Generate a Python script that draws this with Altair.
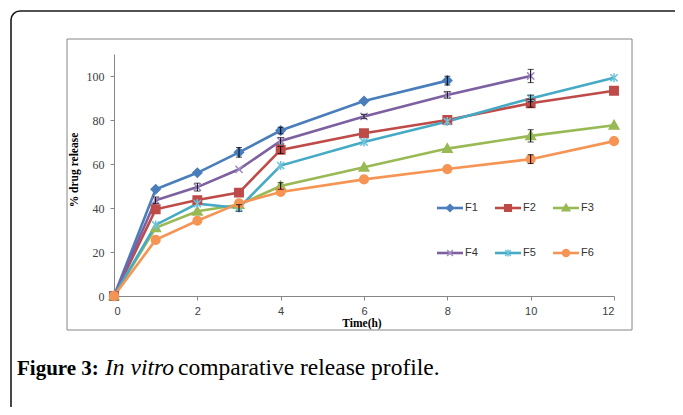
import altair as alt
import pandas as pd

# ---------------- data ----------------
series = ["F1", "F2", "F3", "F4", "F5", "F6"]
times = [0, 1, 2, 3, 4, 6, 8, 10, 12]

f1 = [0, 48.5, 56.0, 65.3, 75.2, 88.6, 97.9]
f2 = [0, 39.4, 43.6, 47.0, 66.4, 74.0, 80.0, 87.6, 93.3]
f3 = [0, 31.0, 38.5, 41.5, 50.0, 58.5, 67.0, 72.8, 77.6]
f4 = [0, 43.5, 49.5, 57.6, 70.5, 81.6, 91.4, 100.0]
f5 = [0, 32.3, 42.0, 40.0, 59.3, 70.0, 79.3, 89.8, 99.2]
f6 = [0, 25.5, 34.2, 42.1, 47.3, 53.0, 57.7, 62.2, 70.4]

# error bars (only those visible beyond the markers)
e1 = [0, 0, 0, 2.2, 1.5, 0, 2.0]
e2 = [0, 0, 0, 0, 1.6, 0, 0, 1.8, 0]
e3 = [0, 0, 0, 0, 1.5, 0, 0, 2.8, 0]
e4 = [0, 1.5, 1.8, 0, 1.5, 1.0, 1.5, 3.0]
e5 = [0, 0, 0, 1.5, 0, 0, 0, 1.5, 0]
e6 = [0, 0, 0, 0, 0, 0, 0, 2.0, 0]

x_ticks = [0, 2, 4, 6, 8, 10, 12]
y_ticks = [0, 20, 40, 60, 80, 100]

line_colors = ["#4a7ebb", "#be4b48", "#98b954", "#7d60a0", "#46aac5", "#f69454"]
marker_colors = ["#4a7ebb", "#be4b48", "#98b954", "#a08cc3", "#6cc3dc", "#f69454"]

marker_paths = [
    "M0,-0.75L0.75,0L0,0.75L-0.75,0Z",
    "M-0.7,-0.7H0.7V0.7H-0.7Z",
    "M0,-0.8L0.8,0.6L-0.8,0.6Z",
    "M-0.6,-0.6L0.6,0.6M-0.6,0.6L0.6,-0.6",
    "M-0.6,-0.6L0.6,0.6M-0.6,0.6L0.6,-0.6M0,-0.75V0.75",
    "M-0.72,0A0.72,0.72 0 1,0 0.72,0A0.72,0.72 0 1,0 -0.72,0Z",
]

vals = [f1, f2, f3, f4, f5, f6]
errs = [e1, e2, e3, e4, e5, e6]
rows = []
for s, v, e in zip(series, vals, errs):
    for t, y, d in zip(times, v, e):
        rows.append({"series": s, "time": t, "rel": y, "lo": y - d, "hi": y + d, "err": d})
df = pd.DataFrame(rows)
df_err = df[df["err"] > 0]

# ---------------- chart ----------------
W, H = 500, 242
xs = alt.Scale(domain=[0, 12], nice=False)
ys = alt.Scale(domain=[0, 110], nice=False)

x_axis = alt.Axis(values=x_ticks, grid=False, domainColor="#868686", tickColor="#868686",
                  tickSize=4, labelFont="Liberation Sans", labelFontSize=11, labelColor="#404040",
                  labelPadding=5, title=None)
y_axis = alt.Axis(values=y_ticks, grid=False, domainColor="#868686", tickColor="#868686",
                  tickSize=4, labelFont="Liberation Serif", labelFontSize=12, labelColor="#404040",
                  labelPadding=6, title=None)

base = alt.Chart(df)

lines = base.mark_line(strokeWidth=2.6).encode(
    x=alt.X("time:Q", scale=xs, axis=x_axis),
    y=alt.Y("rel:Q", scale=ys, axis=y_axis),
    color=alt.Color("series:N", scale=alt.Scale(domain=series, range=line_colors), legend=None),
    detail="series:N",
)

points = base.mark_point(filled=True, size=144, strokeWidth=1.5, opacity=1).encode(
    x=alt.X("time:Q", scale=xs),
    y=alt.Y("rel:Q", scale=ys),
    fill=alt.Fill("series:N", scale=alt.Scale(domain=series, range=marker_colors), legend=None),
    stroke=alt.Stroke("series:N", scale=alt.Scale(domain=series, range=marker_colors), legend=None),
    shape=alt.Shape("series:N", scale=alt.Scale(domain=series, range=marker_paths), legend=None),
)

err_rules = alt.Chart(df_err).mark_rule(color="#000000", strokeWidth=1).encode(
    x=alt.X("time:Q", scale=xs), y=alt.Y("lo:Q", scale=ys), y2="hi:Q")
cap_lo = alt.Chart(df_err).mark_tick(color="#000000", orient="horizontal", size=6, thickness=1).encode(
    x=alt.X("time:Q", scale=xs), y=alt.Y("lo:Q", scale=ys))
cap_hi = alt.Chart(df_err).mark_tick(color="#000000", orient="horizontal", size=6, thickness=1).encode(
    x=alt.X("time:Q", scale=xs), y=alt.Y("hi:Q", scale=ys))

one = alt.Data(values=[{}])
frame_inner = alt.Chart(one).mark_rect(fill="transparent", stroke="#868686", strokeWidth=1).encode(
    x=alt.value(-47), x2=alt.value(518), y=alt.value(-15), y2=alt.value(276))
frame_outer = alt.Chart(one).mark_rect(fill="transparent", stroke="#1a1a1a", strokeWidth=1.6,
                                       cornerRadius=9).encode(
    x=alt.value(-103), x2=alt.value(700), y=alt.value(-43), y2=alt.value(500))

# ---- legend (drawn as guide marks, 3 columns x 2 rows) ----
LEG_X, LEG_Y, COL_W, ROW_H, SYM_W = 323, 154, 58, 45, 26
legend_layers = []
for i, s in enumerate(series):
    cx = LEG_X + (i % 3) * COL_W
    cy = LEG_Y + (i // 3) * ROW_H
    legend_layers.append(alt.Chart(one).mark_rule(color=line_colors[i], strokeWidth=2.6).encode(
        x=alt.value(cx), x2=alt.value(cx + SYM_W), y=alt.value(cy)))
    legend_layers.append(alt.Chart(one).mark_point(
        filled=True, size=90, strokeWidth=1.5, opacity=1, shape=marker_paths[i],
        fill=marker_colors[i], stroke=marker_colors[i]).encode(
        x=alt.value(cx + SYM_W / 2), y=alt.value(cy)))
    legend_layers.append(alt.Chart(one).mark_text(
        text=s, font="Liberation Sans", fontSize=11, color="#333333", align="left",
        baseline="middle").encode(x=alt.value(cx + SYM_W + 2), y=alt.value(cy)))

y_title = alt.Chart(one).mark_text(text="% drug release", angle=270, font="Liberation Serif",
                                   fontWeight="bold", fontSize=11.5, color="#000000",
                                   align="center", baseline="middle").encode(
    x=alt.value(-39), y=alt.value(116))
x_title = alt.Chart(one).mark_text(text="Time(h)", font="Liberation Serif", fontWeight="bold",
                                   fontSize=11.5, color="#000000", align="center",
                                   baseline="middle").encode(x=alt.value(248), y=alt.value(270))

cap1 = alt.Chart(one).mark_text(text="Figure 3:", font="Liberation Serif", fontWeight="bold",
                                fontSize=21, color="#000000", align="left",
                                baseline="alphabetic").encode(x=alt.value(-97), y=alt.value(321))
cap2 = alt.Chart(one).mark_text(text="In vitro", font="Liberation Serif", fontStyle="italic",
                                fontSize=23.5, color="#000000", align="left",
                                baseline="alphabetic").encode(x=alt.value(-9), y=alt.value(321))
cap3 = alt.Chart(one).mark_text(text="comparative release profile.", font="Liberation Serif",
                                fontSize=23.5, color="#000000", align="left",
                                baseline="alphabetic").encode(x=alt.value(64), y=alt.value(321))

chart = alt.layer(
    frame_outer, frame_inner, lines, points, err_rules, cap_lo, cap_hi,
    *legend_layers, y_title, x_title, cap1, cap2, cap3,
).resolve_scale(fill="independent", stroke="independent").properties(
    width=W, height=H,
    autosize=alt.AutoSizeParams(type="none"),
    padding={"left": 106, "top": 46, "right": 61, "bottom": 111},
    background="white",
).configure_view(stroke=None)

chart.save("out.html", embed_options={"renderer": "svg", "actions": False})
